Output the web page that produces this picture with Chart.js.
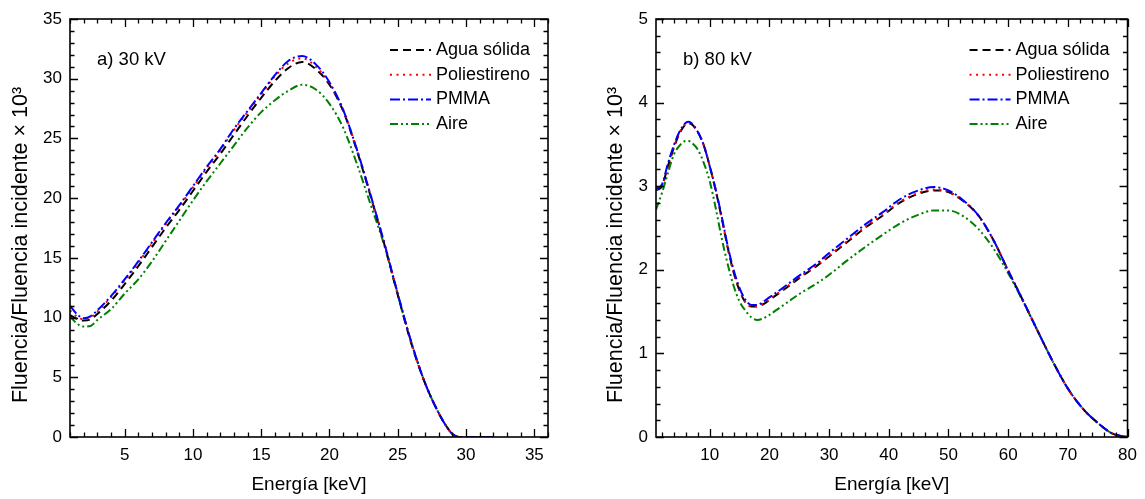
<!DOCTYPE html>
<html lang="es">
<head>
<meta charset="UTF-8">
<title>Fluencia relativa - 30 kV / 80 kV</title>
<script src="https://cdn.jsdelivr.net/npm/chart.js"></script>
<style>
  html, body { margin: 0; padding: 0; background: #fff; }
  #wrap { position: relative; width: 1145px; height: 499px; }
  #pa { position: absolute; left: 0; top: 0; }
  #pb { position: absolute; left: 572px; top: 0; }
</style>
</head>
<body>
<div id="wrap">
  <canvas id="pa" width="572" height="499"></canvas>
  <canvas id="pb" width="573" height="499"></canvas>
</div>
<script>
// a) 30 kV
const energyA = [1, 1.5, 2, 2.5, 3, 4, 5, 6, 7, 8, 9, 10, 11, 12, 13, 14, 15, 16, 17, 18, 19, 20, 21, 22, 23, 24, 25, 26, 27, 28, 28.5, 29, 29.5, 30, 31, 32];
const aguaA = [10.2, 9.9, 9.75, 9.85, 10.3, 11.4, 12.8, 14.3, 15.9, 17.5, 19.0, 20.6, 22.2, 23.7, 25.3, 26.9, 28.4, 29.8, 30.9, 31.4, 30.8, 29.5, 27.3, 24.0, 20.2, 16.2, 11.9, 7.8, 4.5, 2.0, 1.0, 0.25, 0, 0, 0, 0];
const poliA = [10.6, 10.1, 9.85, 10.0, 10.5, 11.7, 13.1, 14.6, 16.2, 17.8, 19.3, 20.9, 22.5, 24.0, 25.7, 27.2, 28.7, 30.2, 31.3, 31.7, 31.0, 29.6, 27.4, 24.1, 20.3, 16.3, 12.0, 7.9, 4.5, 2.0, 1.0, 0.25, 0, 0, 0, 0];
const pmmaA = [11.0, 10.3, 9.95, 10.1, 10.6, 11.8, 13.2, 14.7, 16.3, 17.9, 19.4, 21.0, 22.6, 24.1, 25.8, 27.3, 28.8, 30.3, 31.5, 31.9, 31.2, 29.7, 27.4, 24.1, 20.3, 16.3, 12.0, 7.9, 4.5, 2.0, 1.0, 0.25, 0, 0, 0, 0];
const aireA = [10.1, 9.5, 9.25, 9.3, 9.8, 10.7, 12.0, 13.2, 14.7, 16.4, 18.1, 19.8, 21.4, 22.9, 24.4, 25.9, 27.2, 28.2, 29.0, 29.5, 29.1, 27.9, 25.9, 22.9, 19.5, 16.1, 11.9, 7.9, 4.5, 2.0, 1.0, 0.25, 0, 0, 0, 0];

// b) 80 kV
const energyB = [1, 2, 3, 4, 5, 6, 6.5, 7, 8, 9, 10, 11, 12, 13, 14, 15, 16, 17, 18, 19, 20, 22, 25, 28, 30, 33, 36, 39, 42, 45, 47.5, 50, 52.5, 55, 57.5, 60, 62.5, 65, 67.5, 70, 72.5, 75, 77.5, 80];
const aguaB = [2.95, 3.0, 3.24, 3.46, 3.64, 3.74, 3.75, 3.74, 3.65, 3.49, 3.24, 2.95, 2.62, 2.27, 1.97, 1.75, 1.61, 1.56, 1.56, 1.59, 1.64, 1.74, 1.9, 2.05, 2.16, 2.33, 2.5, 2.65, 2.81, 2.91, 2.95, 2.93, 2.82, 2.65, 2.36, 1.99, 1.63, 1.26, 0.9, 0.58, 0.34, 0.17, 0.04, 0];
const poliB = [2.96, 3.0, 3.25, 3.47, 3.65, 3.75, 3.76, 3.74, 3.65, 3.49, 3.24, 2.95, 2.62, 2.27, 1.97, 1.76, 1.61, 1.56, 1.57, 1.6, 1.65, 1.75, 1.91, 2.06, 2.17, 2.34, 2.51, 2.66, 2.82, 2.92, 2.96, 2.93, 2.82, 2.65, 2.36, 1.99, 1.63, 1.26, 0.9, 0.58, 0.34, 0.17, 0.04, 0];
const pmmaB = [2.97, 3.02, 3.27, 3.49, 3.66, 3.76, 3.77, 3.75, 3.65, 3.49, 3.24, 2.96, 2.64, 2.29, 2.0, 1.78, 1.64, 1.58, 1.58, 1.62, 1.67, 1.77, 1.93, 2.08, 2.2, 2.37, 2.54, 2.69, 2.85, 2.95, 2.99, 2.95, 2.83, 2.65, 2.36, 1.99, 1.63, 1.26, 0.9, 0.58, 0.34, 0.17, 0.04, 0];
const aireB = [2.72, 2.92, 3.16, 3.38, 3.49, 3.54, 3.54, 3.52, 3.44, 3.28, 3.06, 2.74, 2.38, 2.07, 1.81, 1.62, 1.51, 1.43, 1.40, 1.42, 1.46, 1.56, 1.71, 1.84, 1.94, 2.11, 2.27, 2.42, 2.56, 2.66, 2.71, 2.71, 2.64, 2.49, 2.26, 1.96, 1.62, 1.26, 0.9, 0.58, 0.34, 0.17, 0.04, 0];

const seriesNames = ['Agua sólida', 'Poliestireno', 'PMMA', 'Aire'];
const xTicksA = [5, 10, 15, 20, 25, 30, 35];
const yTicksA = [0, 5, 10, 15, 20, 25, 30, 35];
const xTicksB = [10, 20, 30, 40, 50, 60, 70, 80];
const yTicksB = [0, 1, 2, 3, 4, 5];
const xTitle = 'Energía [keV]';
const yTitle = 'Fluencia/Fluencia incidente × 10³';

const FONT = 'Arial, "Liberation Sans", sans-serif';

// frame with inward ticks on all four sides, y title, legend and panel label
const framePlugin = {
  id: 'frame',
  afterDraw(chart, args, opts) {
    const { ctx, chartArea: a, scales: { x, y } } = chart;
    ctx.save();
    ctx.strokeStyle = '#000';
    ctx.lineWidth = 1.6;
    ctx.setLineDash([]);
    ctx.strokeRect(a.left, a.top, a.right - a.left, a.bottom - a.top);

    ctx.lineWidth = 1.3;
    const isMajor = (v, m) => Math.abs(v / m - Math.round(v / m)) < 1e-6;
    ctx.beginPath();
    for (let i = Math.ceil(x.min / opts.xMinor - 1e-9); i * opts.xMinor <= x.max + 1e-9; i++) {
      const v = i * opts.xMinor;
      const px = Math.round(x.getPixelForValue(v)) + 0.5;
      const len = isMajor(v, opts.xMajor) ? 8 : 4.5;
      ctx.moveTo(px, a.bottom); ctx.lineTo(px, a.bottom - len);
      ctx.moveTo(px, a.top); ctx.lineTo(px, a.top + len);
    }
    for (let i = Math.ceil(y.min / opts.yMinor - 1e-9); i * opts.yMinor <= y.max + 1e-9; i++) {
      const v = i * opts.yMinor;
      const py = Math.round(y.getPixelForValue(v)) + 0.5;
      const len = isMajor(v, opts.yMajor) ? 8 : 4.5;
      ctx.moveTo(a.left, py); ctx.lineTo(a.left + len, py);
      ctx.moveTo(a.right, py); ctx.lineTo(a.right - len, py);
    }
    ctx.stroke();

    ctx.fillStyle = '#000';
    ctx.textBaseline = 'middle';

    // y title (rotated)
    ctx.save();
    ctx.translate(opts.yTitleX, 245);
    ctx.rotate(-Math.PI / 2);
    ctx.font = '21.5px ' + FONT;
    ctx.textAlign = 'center';
    ctx.fillText(yTitle, 0, 0);
    ctx.restore();

    // panel label
    ctx.font = '18.5px ' + FONT;
    ctx.textAlign = 'left';
    ctx.fillText(opts.label, a.left + 27, a.top + 41);

    // legend
    ctx.font = '18px ' + FONT;
    chart.data.datasets.forEach((ds, i) => {
      const ly = a.top + 31 + i * 24.7;
      ctx.beginPath();
      ctx.strokeStyle = ds.borderColor;
      ctx.lineWidth = 2;
      ctx.setLineDash(ds.borderDash);
      ctx.moveTo(a.right - 158, ly);
      ctx.lineTo(a.right - 117, ly);
      ctx.stroke();
      ctx.setLineDash([]);
      ctx.fillStyle = '#000';
      ctx.fillText(ds.label, a.right - 112, ly);
    });
    ctx.restore();
  }
};

function line(label, xs, ys, color, dash, order) {
  return {
    label: label,
    data: xs.map((v, i) => ({ x: v, y: ys[i] })),
    borderColor: color,
    backgroundColor: color,
    borderDash: dash,
    borderWidth: 2,
    pointRadius: 0,
    cubicInterpolationMode: 'monotone',
    fill: false,
    order: order
  };
}

function makeChart(id, cfg) {
  return new Chart(document.getElementById(id), {
    type: 'line',
    data: {
      datasets: [
        line(seriesNames[0], cfg.xs, cfg.agua, '#000000', [8, 5], 2),
        line(seriesNames[1], cfg.xs, cfg.poli, '#ff0000', [2, 4.5], 1),
        line(seriesNames[2], cfg.xs, cfg.pmma, '#0000ff', [10, 3, 2, 3], 0),
        line(seriesNames[3], cfg.xs, cfg.aire, '#008000', [8, 3, 2, 3, 2, 3], 3)
      ]
    },
    options: {
      responsive: false,
      animation: false,
      events: [],
      layout: { padding: { left: 0, right: cfg.padRight, top: 19, bottom: 0 } },
      plugins: {
        legend: { display: false },
        tooltip: { enabled: false },
        frame: cfg.frame
      },
      scales: {
        x: {
          type: 'linear',
          min: cfg.xMin, max: cfg.xMax,
          afterBuildTicks: s => { s.ticks = cfg.xTicks.map(v => ({ value: v })); },
          afterFit: s => { s.height = 62; },
          grid: { display: false, drawTicks: false },
          border: { display: false },
          ticks: { color: '#000', font: { size: 17, family: FONT }, padding: 8, maxRotation: 0, autoSkip: false },
          title: { display: true, text: xTitle, color: '#000', font: { size: 19, family: FONT }, padding: { top: 0, bottom: 3 } }
        },
        y: {
          type: 'linear',
          min: cfg.yMin, max: cfg.yMax,
          afterBuildTicks: s => { s.ticks = cfg.yTicks.map(v => ({ value: v })); },
          afterFit: s => { s.width = cfg.yWidth; },
          grid: { display: false, drawTicks: false },
          border: { display: false },
          ticks: { color: '#000', font: { size: 17, family: FONT }, padding: 8, autoSkip: false }
        }
      }
    },
    plugins: [framePlugin]
  });
}

makeChart('pa', {
  xs: energyA, agua: aguaA, poli: poliA, pmma: pmmaA, aire: aireA,
  xMin: 1, xMax: 36, yMin: 0, yMax: 35, xTicks: xTicksA, yTicks: yTicksA,
  padRight: 24, yWidth: 70,
  frame: { label: 'a) 30 kV', yTitleX: 21, xMinor: 1, xMajor: 5, yMinor: 1, yMajor: 5 }
});

makeChart('pb', {
  xs: energyB, agua: aguaB, poli: poliB, pmma: pmmaB, aire: aireB,
  xMin: 1, xMax: 80, yMin: 0, yMax: 5, xTicks: xTicksB, yTicks: yTicksB,
  padRight: 12, yWidth: 84,
  frame: { label: 'b) 80 kV', yTitleX: 44, xMinor: 2, xMajor: 10, yMinor: 0.2, yMajor: 1 }
});
</script>
</body>
</html>
